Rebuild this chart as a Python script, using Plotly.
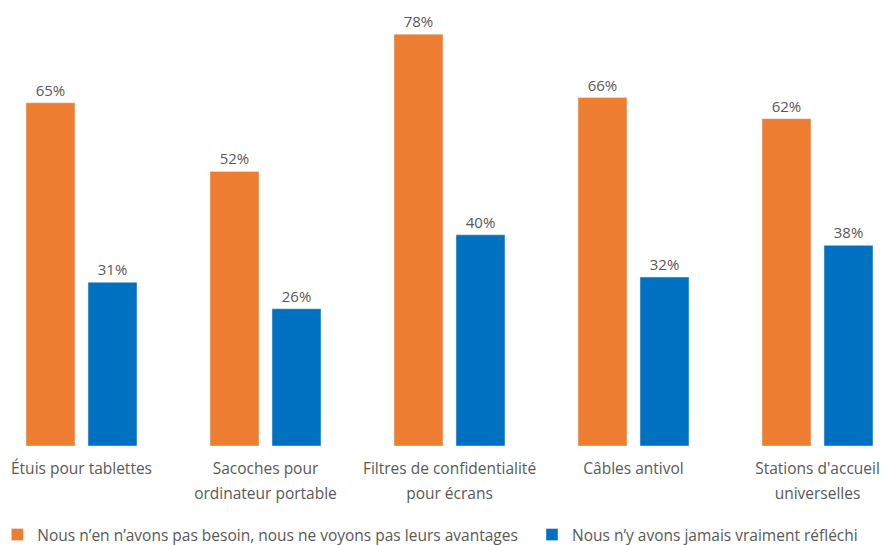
import plotly.graph_objects as go

categories = ["Étuis pour tablettes", "Sacoches pour<br>ordinateur portable",
              "Filtres de confidentialité<br>pour écrans", "Câbles antivol",
              "Stations d'accueil<br>universelles"]
series1_name = "Nous n’en n’avons pas besoin, nous ne voyons pas leurs avantages"
series2_name = "Nous n’y avons jamais vraiment réfléchi"
series1 = [65, 52, 78, 66, 62]
series2 = [31, 26, 40, 32, 38]

grey = "#595959"
font = "Open Sans, Noto Sans, sans-serif"

# tick text: lines in 15.5px font, line spacing from 19px tick font
ticktext = ["<br>".join(f"<span style='font-size:15.5px'>{p}</span>" for p in c.split("<br>"))
            for c in categories]

fig = go.Figure()
fig.add_trace(go.Bar(x=categories, y=series1, name=series1_name,
                     marker_color="#ED7D31", legend="legend",
                     text=[f"{v}%" for v in series1], textposition="outside",
                     textfont=dict(color=grey, size=15, family=font), cliponaxis=False))
fig.add_trace(go.Bar(x=categories, y=series2, name=series2_name,
                     marker_color="#0070C0", legend="legend2",
                     text=[f"{v}%" for v in series2], textposition="outside",
                     textfont=dict(color=grey, size=15, family=font), cliponaxis=False))

W, H = 888, 545
OFF = 8  # page offset of the figure
plot_bottom = 446 - OFF
px_per_unit = 184.0
center0 = 81.5 - OFF
r0 = -center0 / px_per_unit
r1 = r0 + W / px_per_unit
ytop = plot_bottom / 5.28

def ly(ref_y):
    return -(ref_y - OFF - plot_bottom) / plot_bottom

fig.update_layout(
    width=W, height=H,
    margin=dict(l=0, r=0, t=0, b=H - plot_bottom, autoexpand=False),
    paper_bgcolor="white", plot_bgcolor="white",
    barmode="group", bargap=0.326, bargroupgap=0.21,
    font=dict(family=font, color=grey, size=15),
    showlegend=True,
    legend=dict(orientation="h", x=-0.012, y=ly(535), xanchor="left", yanchor="middle",
                font=dict(size=15.5, color=grey), itemclick=False, bgcolor="rgba(0,0,0,0)"),
    legend2=dict(orientation="h", x=(557 - OFF - 25) / W, y=ly(535), xanchor="left",
                 yanchor="middle", font=dict(size=15.5, color=grey), itemclick=False,
                 bgcolor="rgba(0,0,0,0)"),
)
fig.update_xaxes(range=[r0, r1], showline=False, showgrid=False, ticks="",
                 tickmode="array", tickvals=categories, ticktext=ticktext,
                 ticklabelstandoff=8,
                 tickfont=dict(size=19, color=grey, family=font))
fig.update_yaxes(range=[0, ytop], visible=False, showgrid=False)

fig.write_html("out.html")
